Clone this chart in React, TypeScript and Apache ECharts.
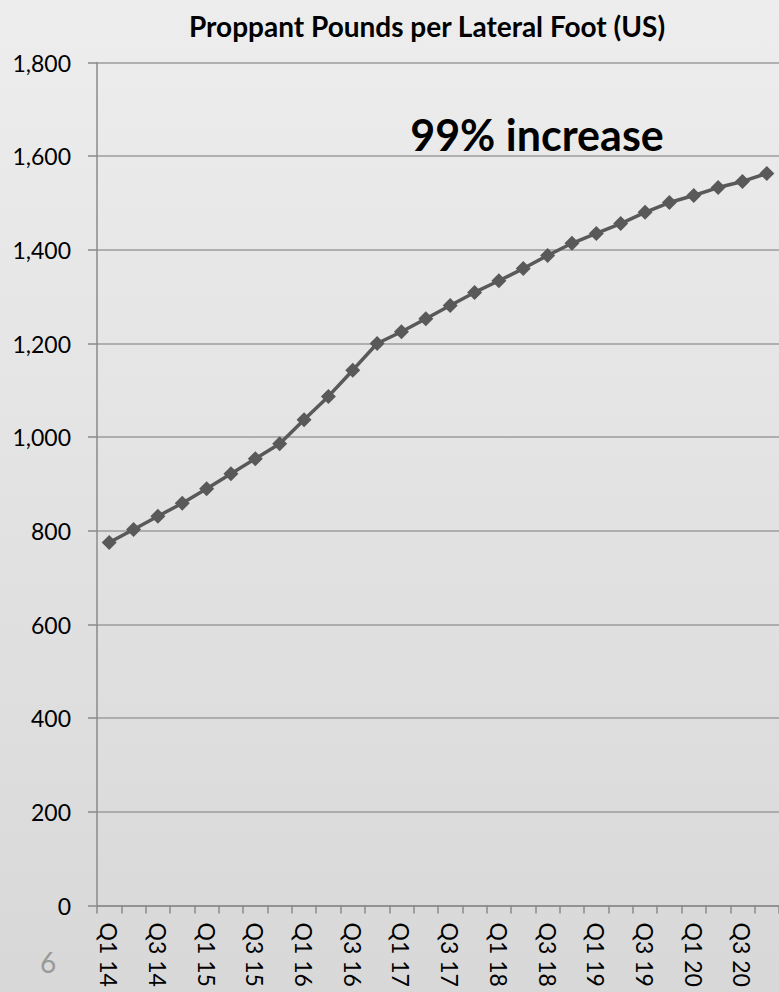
import React, { useEffect, useRef } from "react";
import * as echarts from "echarts";

const categories = [
  "Q1 14", "Q2 14", "Q3 14", "Q4 14",
  "Q1 15", "Q2 15", "Q3 15", "Q4 15",
  "Q1 16", "Q2 16", "Q3 16", "Q4 16",
  "Q1 17", "Q2 17", "Q3 17", "Q4 17",
  "Q1 18", "Q2 18", "Q3 18", "Q4 18",
  "Q1 19", "Q2 19", "Q3 19", "Q4 19",
  "Q1 20", "Q2 20", "Q3 20", "Q4 20",
];

const proppantValues = [
  775, 803, 831, 859,
  890, 922, 954, 986,
  1037, 1087, 1143, 1200,
  1225, 1253, 1281, 1309,
  1334, 1360, 1388, 1414,
  1435, 1456, 1480, 1501,
  1516, 1533, 1546, 1563,
];

const titleText = "Proppant Pounds per Lateral Foot (US)";
const annotationText = "99% increase";
const slideNumber = "6";

const yMin = 0;
const yMax = 1800;
const yStep = 200;

export default function App() {
  const ref = useRef<HTMLDivElement>(null);

  useEffect(() => {
    if (!ref.current) return;
    const chart = echarts.init(ref.current, null, { renderer: "svg" });
    const font = "Lato";
    chart.setOption({
      animation: false,
      backgroundColor: {
        type: "linear",
        x: 0,
        y: 0,
        x2: 0,
        y2: 1,
        colorStops: [
          { offset: 0, color: "#ededed" },
          { offset: 1, color: "#d8d8d8" },
        ],
      },
      grid: { left: 97, right: 0, top: 62.5, bottom: 86.5, containLabel: false },
      xAxis: {
        type: "category",
        data: categories,
        boundaryGap: true,
        axisLine: { show: true, lineStyle: { color: "#8a8a8a", width: 1.5 } },
        axisTick: { show: true, interval: 0, length: 8, lineStyle: { color: "#8a8a8a", width: 1.5 } },
        axisLabel: {
          interval: 1,
          rotate: -90,
          margin: 17,
          color: "#000",
          fontFamily: font,
          fontSize: 23,
        },
        splitLine: { show: false },
      },
      yAxis: {
        type: "value",
        min: yMin,
        max: yMax,
        interval: yStep,
        axisLine: { show: true, lineStyle: { color: "#8a8a8a", width: 1.5 } },
        axisTick: { show: true, length: 9, lineStyle: { color: "#8a8a8a", width: 1.5 } },
        axisLabel: {
          margin: 26,
          color: "#000",
          fontFamily: font,
          fontSize: 23,
          formatter: (v: number) => v.toLocaleString("en-US"),
        },
        splitLine: { show: true, lineStyle: { color: "#9c9c9c", width: 1.5 } },
      },
      series: [
        {
          type: "line",
          data: proppantValues,
          symbol: "diamond",
          symbolSize: 15,
          itemStyle: { color: "#595959" },
          lineStyle: { color: "#595959", width: 3.5 },
          z: 5,
        },
      ],
      graphic: [
        {
          type: "text",
          x: 427,
          y: 26,
          style: {
            text: titleText,
            fill: "#000",
            fontFamily: font,
            fontWeight: "bold",
            fontSize: 28,
            align: "center",
            verticalAlign: "middle",
          },
        },
        {
          type: "text",
          x: 537,
          y: 134,
          z: 10,
          style: {
            text: annotationText,
            fill: "#000",
            fontFamily: font,
            fontWeight: "bold",
            fontSize: 43,
            align: "center",
            verticalAlign: "middle",
          },
        },
        {
          type: "text",
          x: 48,
          y: 962,
          style: {
            text: slideNumber,
            fill: "#999999",
            fontFamily: font,
            fontSize: 28,
            align: "center",
            verticalAlign: "middle",
          },
        },
      ],
    });
    return () => chart.dispose();
  }, []);

  return (
    <div
      ref={ref}
      style={{ position: "fixed", left: 0, top: 0, width: 779, height: 992 }}
    />
  );
}
